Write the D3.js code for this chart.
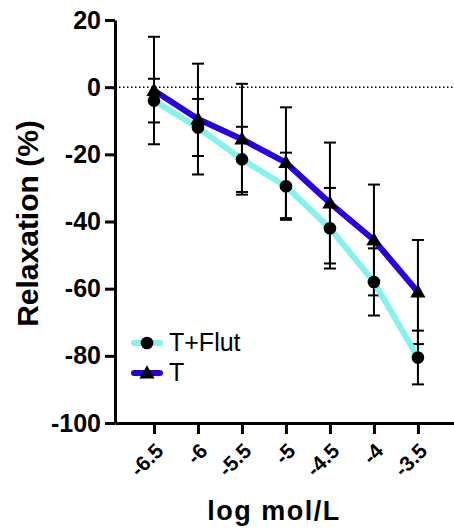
<!DOCTYPE html>
<html>
<head>
<meta charset="utf-8">
<script src="https://cdn.jsdelivr.net/npm/d3@7"></script>
<style>
  body { margin: 0; background: #fff; }
  svg { display: block; font-family: 'Liberation Sans', Arial, sans-serif; }
</style>
</head>
<body>
<div id="chart"></div>
<script>
// data
const doses = [-6.5, -6, -5.5, -5, -4.5, -4, -3.5];
const tickLabels = ['-6.5', '-6', '-5.5', '-5', '-4.5', '-4', '-3.5'];
const flutMean = [-4, -12, -21.5, -29.5, -42, -58, -80.5];
const flutErr = [6.5, 8.5, 9.7, 10, 12, 10, 8];
const tMean = [-1, -9.5, -15.5, -22.5, -34.5, -45.5, -61];
const tErr = [16, 16.5, 16.5, 16.5, 18, 16.5, 15.5];
const yTicks = [20, 0, -20, -40, -60, -80, -100];

const width = 454;
const height = 529;

const svg = d3.select('#chart').append('svg')
  .attr('width', width)
  .attr('height', height);

const x = d3.scaleLinear().domain([-6.943, -3.09]).range([115, 454]);
const y = d3.scaleLinear().domain([-100, 20]).range([423, 20]);

const series = [
  { name: 'T+Flut', mean: flutMean, err: flutErr, color: '#86f2ee', shape: d3.symbolCircle },
  { name: 'T', mean: tMean, err: tErr, color: '#2a00dc', shape: d3.symbolTriangle },
];

// dotted zero line
svg.append('line')
  .attr('x1', x.range()[0]).attr('x2', x.range()[1])
  .attr('y1', y(0)).attr('y2', y(0))
  .attr('stroke', '#000')
  .attr('stroke-width', 1.5)
  .attr('stroke-dasharray', '1.5,2.5');

// error bars
series.forEach((s) => {
  const g = svg.append('g')
    .attr('stroke', '#000')
    .attr('stroke-width', 2);
  doses.forEach((d, i) => {
    const cx = x(d);
    const top = y(s.mean[i] + s.err[i]);
    const bot = y(s.mean[i] - s.err[i]);
    g.append('line').attr('x1', cx).attr('x2', cx).attr('y1', top).attr('y2', bot);
    g.append('line').attr('x1', cx - 6).attr('x2', cx + 6).attr('y1', top).attr('y2', top);
    g.append('line').attr('x1', cx - 6).attr('x2', cx + 6).attr('y1', bot).attr('y2', bot);
  });
});

// mean lines
const line = d3.line()
  .x((d) => x(d[0]))
  .y((d) => y(d[1]));

series.forEach((s) => {
  svg.append('path')
    .datum(doses.map((d, i) => [d, s.mean[i]]))
    .attr('fill', 'none')
    .attr('stroke', s.color)
    .attr('stroke-width', 6)
    .attr('stroke-linejoin', 'round')
    .attr('d', line);
});

// markers
series.forEach((s) => {
  const sym = d3.symbol().type(s.shape).size(s.shape === d3.symbolCircle ? 125 : 100);
  svg.append('g').selectAll('path')
    .data(doses.map((d, i) => [d, s.mean[i]]))
    .enter()
    .append('path')
    .attr('transform', (d) => `translate(${x(d[0])},${y(d[1]) + (s.shape === d3.symbolTriangle ? 1 : 0)})`)
    .attr('d', sym)
    .attr('fill', '#000');
});

// y axis
const yAxis = svg.append('g')
  .attr('transform', `translate(${x.range()[0]},0)`)
  .call(d3.axisLeft(y).tickValues(yTicks).tickFormat((d) => String(d))
    .tickSize(10).tickSizeOuter(0).tickPadding(4));
yAxis.select('.domain').attr('stroke-width', 3);
yAxis.selectAll('.tick line').attr('stroke-width', 3);
yAxis.selectAll('.tick text')
  .attr('font-size', 25)
  .attr('font-weight', 'bold')
  .attr('fill', '#000')
  .attr('font-family', 'Liberation Sans, Arial, sans-serif');

// x axis
const xAxis = svg.append('g')
  .attr('transform', `translate(0,${y(-100)})`)
  .call(d3.axisBottom(x).tickValues(doses).tickFormat((d, i) => tickLabels[i])
    .tickSize(11).tickSizeOuter(0));
xAxis.select('.domain').attr('stroke-width', 3);
xAxis.selectAll('.tick line').attr('stroke-width', 3);
xAxis.selectAll('.tick text')
  .attr('font-size', 21)
  .attr('font-weight', 'bold')
  .attr('fill', '#000')
  .attr('font-family', 'Liberation Sans, Arial, sans-serif')
  .attr('text-anchor', 'end')
  .attr('x', 0)
  .attr('y', 0)
  .attr('dy', '0.35em')
  .attr('transform', 'translate(5,24) rotate(-45)');

// axis titles
svg.append('text')
  .attr('transform', `translate(38,${(y(20) + y(-100)) / 2 + 2}) rotate(-90)`)
  .attr('text-anchor', 'middle')
  .attr('font-size', 30)
  .attr('font-weight', 'bold')
  .text('Relaxation (%)');

svg.append('text')
  .attr('x', 274)
  .attr('y', 520)
  .attr('text-anchor', 'middle')
  .attr('font-size', 27)
  .attr('font-weight', 'bold')
  .attr('letter-spacing', 1.5)
  .text('log mol/L');

// legend
const legend = svg.append('g');
series.forEach((s, i) => {
  const ly = 343 + i * 30;
  legend.append('line')
    .attr('x1', 134).attr('x2', 160)
    .attr('y1', ly).attr('y2', ly)
    .attr('stroke', s.color)
    .attr('stroke-width', 6)
    .attr('stroke-linecap', 'round');
  legend.append('path')
    .attr('transform', `translate(147,${ly + (s.shape === d3.symbolTriangle ? 1 : 0)})`)
    .attr('d', d3.symbol().type(s.shape).size(s.shape === d3.symbolCircle ? 125 : 100))
    .attr('fill', '#000');
  legend.append('text')
    .attr('x', 169)
    .attr('y', ly + 8)
    .attr('font-size', 25)
    .text(s.name);
});
</script>
</body>
</html>
